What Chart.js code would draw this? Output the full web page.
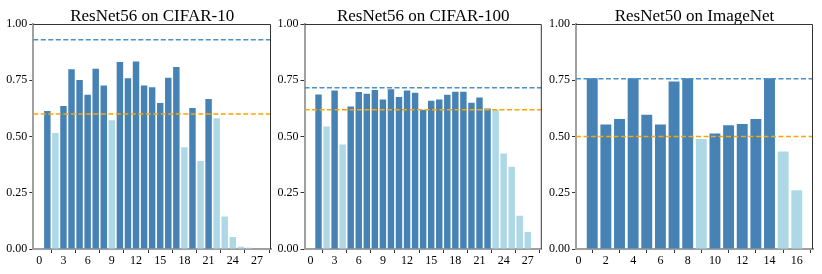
<!DOCTYPE html>
<html><head><meta charset="utf-8">
<script src="https://cdn.jsdelivr.net/npm/chart.js@4.4.0/dist/chart.umd.min.js"></script>
<style>
html,body{margin:0;padding:0;background:#fff;width:822px;height:274px;overflow:hidden}
canvas{position:absolute;left:0;top:0}
</style></head><body>
<canvas id="c0" width="822" height="274" style="width:822px;height:274px"></canvas>
<canvas id="c1" width="822" height="274" style="width:822px;height:274px"></canvas>
<canvas id="c2" width="822" height="274" style="width:822px;height:274px"></canvas>
<script>
// ---------- data ----------
const titles = ["ResNet56 on CIFAR-10", "ResNet56 on CIFAR-100", "ResNet50 on ImageNet"];

const cifar10Layers = [1,2,3,4,5,6,7,8,9,10,11,12,13,14,15,16,17,18,19,20,21,22,23,24,25,26,27];
const cifar10Acc = [0.613,0.516,0.636,0.799,0.751,0.686,0.801,0.727,0.572,0.831,0.759,0.833,0.727,0.719,0.649,0.761,0.809,0.452,0.627,0.391,0.667,0.581,0.145,0.053,0.010,0.006,0.002];
const cifar10Kept = [1,0,1,1,1,1,1,1,0,1,1,1,1,1,1,1,1,0,1,0,1,0,0,0,0,0,0];

const cifar100Layers = [1,2,3,4,5,6,7,8,9,10,11,12,13,14,15,16,17,18,19,20,21,22,23,24,25,26,27];
const cifar100Acc = [0.687,0.544,0.705,0.464,0.633,0.698,0.690,0.707,0.664,0.710,0.676,0.704,0.695,0.619,0.659,0.664,0.686,0.699,0.699,0.650,0.673,0.625,0.619,0.424,0.366,0.148,0.076];
const cifar100Kept = [1,0,1,0,1,1,1,1,1,1,1,1,1,1,1,1,1,1,1,1,1,1,0,0,0,0,0];

const imagenetLayers = [1,2,3,4,5,6,7,8,9,10,11,12,13,14,15,16];
const imagenetAcc = [0.759,0.553,0.578,0.759,0.597,0.553,0.745,0.759,0.489,0.513,0.550,0.556,0.578,0.759,0.433,0.261];
const imagenetKept = [1,1,1,1,1,1,1,1,0,1,1,1,1,1,0,0];

const baselineAcc = [0.930, 0.717, 0.757];
const thresholdAcc = [0.600, 0.619, 0.500];

const xTicks = [[0,3,6,9,12,15,18,21,24,27],[0,3,6,9,12,15,18,21,24,27],[0,2,4,6,8,10,12,14,16]];
const yTicks = [0,0.25,0.5,0.75,1.0];

// ---------- style / layout ----------
const DARK = '#4682B4', LIGHT = '#ADD8E6';
const FONT = "'Liberation Serif','Times New Roman',serif";
const panels = [
  {layers: cifar10Layers, acc: cifar10Acc, kept: cifar10Kept, xlim: [-0.74, 28.74], area: [33.3, 271]},
  {layers: cifar100Layers, acc: cifar100Acc, kept: cifar100Kept, xlim: [-0.74, 28.74], area: [304.5, 541.8]},
  {layers: imagenetLayers, acc: imagenetAcc, kept: imagenetKept, xlim: [-0.19, 17.19], area: [576, 813]}
];
const Y_AXIS_W = 33;

const framePlugin = {
  id: 'frame',
  afterDraw(chart) {
    const a = chart.chartArea, ctx = chart.ctx;
    ctx.save();
    ctx.strokeStyle = '#333';
    ctx.lineWidth = 1;
    ctx.beginPath();
    ctx.moveTo(a.left, a.top + 0.5);
    ctx.lineTo(a.right - 0.5, a.top + 0.5);
    ctx.lineTo(a.right - 0.5, a.bottom);
    ctx.stroke();
    ctx.restore();
  }
};

panels.forEach((p, i) => {
  const barData = p.layers.map((x, k) => ({x: x, y: p.acc[k]}));
  const colors = p.kept.map(k => k ? DARK : LIGHT);
  new Chart(document.getElementById('c' + i), {
    type: 'bar',
    data: {
      datasets: [
        {type: 'line', data: [{x: p.xlim[0], y: baselineAcc[i]}, {x: p.xlim[1], y: baselineAcc[i]}],
         borderColor: '#4a90c9', borderWidth: 1.5, borderDash: [5, 2.5], pointRadius: 0, order: 0},
        {type: 'line', data: [{x: p.xlim[0], y: thresholdAcc[i]}, {x: p.xlim[1], y: thresholdAcc[i]}],
         borderColor: '#FFA500', borderWidth: 1.5, borderDash: [5, 2.5], pointRadius: 0, order: 0},
        {type: 'bar', data: barData, backgroundColor: colors, borderWidth: 0,
         categoryPercentage: 1.0, barPercentage: 0.8, order: 1}
      ]
    },
    options: {
      responsive: false,
      animation: false,
      events: [],
      layout: {padding: {left: p.area[0] - Y_AXIS_W, right: 822 - p.area[1], top: 0, bottom: 0}},
      plugins: {
        legend: {display: false},
        tooltip: {enabled: false},
        title: {display: true, text: titles[i], fullSize: false, color: '#000',
                font: {family: FONT, size: 17, weight: 'normal', lineHeight: 0.9},
                padding: {top: 8.5, bottom: 0.2}}
      },
      scales: {
        x: {
          type: 'linear', min: p.xlim[0], max: p.xlim[1], offset: false,
          afterBuildTicks: ax => { ax.ticks = xTicks[i].map(v => ({value: v})); },
          afterFit: ax => { ax.height = 25; },
          ticks: {color: '#000', font: {family: FONT, size: 12}, padding: 1, maxRotation: 0, autoSkip: false,
                  callback: v => String(v)},
          grid: {display: true, drawOnChartArea: false, drawTicks: true, tickLength: 4, color: '#333', tickWidth: 1},
          border: {display: true, color: '#a0a0a0', width: 2}
        },
        y: {
          min: 0, max: 1,
          afterBuildTicks: ax => { ax.ticks = yTicks.map(v => ({value: v})); },
          afterFit: ax => { ax.width = Y_AXIS_W; },
          ticks: {color: '#000', font: {family: FONT, size: 12}, padding: 2,
                  callback: v => Number(v).toFixed(2)},
          grid: {display: true, drawOnChartArea: false, drawTicks: true, tickLength: 4, color: '#333', tickWidth: 1},
          border: {display: true, color: '#a0a0a0', width: 2}
        }
      }
    },
    plugins: [framePlugin]
  });
});
</script>
</body></html>
